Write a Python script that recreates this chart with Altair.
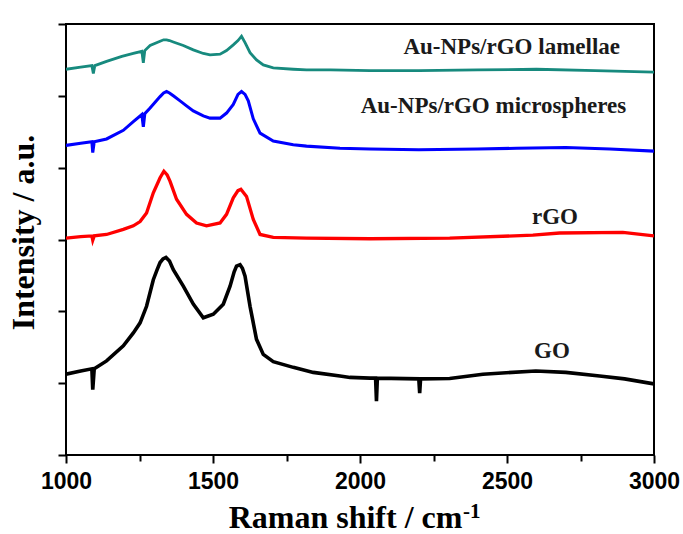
import altair as alt
import pandas as pd

# ---- data (Raman shift in cm-1, offset intensity in a.u.) ----
go_x = [1000, 1050, 1088, 1091, 1096, 1138, 1195, 1229, 1252, 1274, 1297, 1310, 1320, 1330,
        1340, 1352, 1365, 1399, 1433, 1467, 1501, 1535, 1558, 1572, 1580, 1592, 1600, 1609,
        1626, 1648, 1671, 1705, 1773, 1841, 1932, 1966, 2034, 2053, 2056, 2059, 2200, 2203,
        2206, 2305, 2418, 2598, 2700, 2815, 2900, 3000]
go_y = [0.125, 0.17, 0.20, -0.09, 0.20, 0.31, 0.52, 0.70, 0.84, 1.07, 1.44, 1.58, 1.68, 1.73,
        1.75, 1.70, 1.58, 1.35, 1.10, 0.91, 0.96, 1.10, 1.35, 1.55, 1.63, 1.65, 1.60, 1.49,
        1.07, 0.61, 0.40, 0.30, 0.22, 0.15, 0.10, 0.08, 0.07, 0.07, -0.25, 0.07, 0.06, -0.14,
        0.06, 0.065, 0.125, 0.17, 0.15, 0.10, 0.06, -0.01]

rgo_x = [1000, 1050, 1088, 1091, 1096, 1138, 1195, 1229, 1252, 1274, 1297, 1320, 1333, 1344,
         1354, 1376, 1410, 1444, 1478, 1524, 1546, 1569, 1585, 1595, 1614, 1637, 1660, 1705,
         1818, 2034, 2305, 2588, 2679, 2894, 3000]
rgo_y = [2.02, 2.04, 2.05, 1.99, 2.05, 2.07, 2.14, 2.19, 2.25, 2.37, 2.65, 2.86, 2.95, 2.90,
         2.81, 2.56, 2.35, 2.23, 2.19, 2.23, 2.35, 2.58, 2.68, 2.70, 2.60, 2.28, 2.07, 2.03,
         2.02, 2.01, 2.02, 2.06, 2.09, 2.10, 2.05]

micro_x = [1000, 1050, 1088, 1091, 1096, 1138, 1195, 1229, 1258, 1263, 1268, 1286, 1320, 1332,
           1342, 1352, 1365, 1388, 1410, 1433, 1467, 1490, 1524, 1546, 1569, 1585, 1597, 1609,
           1620, 1637, 1660, 1705, 1773, 1818, 1932, 2034, 2200, 2400, 2532, 2700, 2850, 3000]
micro_y = [3.31, 3.34, 3.36, 3.21, 3.36, 3.40, 3.52, 3.64, 3.74, 3.57, 3.75, 3.83, 3.99, 4.04,
           4.06, 4.04, 4.00, 3.93, 3.86, 3.79, 3.72, 3.69, 3.69, 3.76, 3.88, 4.02, 4.06, 4.02,
           3.93, 3.68, 3.48, 3.37, 3.32, 3.30, 3.27, 3.26, 3.25, 3.26, 3.27, 3.28, 3.26, 3.23]

lam_x = [1000, 1050, 1088, 1093, 1098, 1138, 1190, 1229, 1258, 1263, 1268, 1286, 1320, 1332,
         1342, 1352, 1365, 1399, 1433, 1467, 1490, 1524, 1546, 1569, 1585, 1597, 1609, 1626,
         1648, 1671, 1705, 1773, 1818, 1900, 2034, 2200, 2400, 2600, 2800, 3000]
lam_y = [4.37, 4.40, 4.42, 4.31, 4.42, 4.48, 4.55, 4.59, 4.62, 4.46, 4.63, 4.70, 4.76, 4.78,
         4.78, 4.77, 4.75, 4.70, 4.64, 4.59, 4.57, 4.58, 4.63, 4.71, 4.77, 4.83, 4.74, 4.60,
         4.50, 4.43, 4.39, 4.37, 4.36, 4.36, 4.35, 4.35, 4.36, 4.37, 4.35, 4.33]

series_names = ["GO", "rGO", "Au-NPs/rGO microspheres", "Au-NPs/rGO lamellae"]
series_colors = ["#000000", "#ff0000", "#0000ff", "#178a7e"]
series_widths = [3.6, 2.8, 2.8, 2.8]

label_text = ["Au-NPs/rGO lamellae", "Au-NPs/rGO microspheres", "rGO", "GO"]
label_x = [2516, 2454, 2663, 2653]
label_y = [4.58, 3.76, 2.21, 0.35]

x_ticks = [1000, 1250, 1500, 1750, 2000, 2250, 2500, 2750, 3000]
y_ticks = [-1, 0, 1, 2, 3, 4, 5]

rows = []
for name, xs, ys in [(series_names[0], go_x, go_y), (series_names[1], rgo_x, rgo_y),
                     (series_names[2], micro_x, micro_y), (series_names[3], lam_x, lam_y)]:
    for xv, yv in zip(xs, ys):
        rows.append({"series": name, "shift": xv, "intensity": yv})
df = pd.DataFrame(rows)
labels_df = pd.DataFrame({"text": label_text, "shift": label_x, "intensity": label_y})

x_scale = alt.Scale(domain=[1000, 3000], nice=False, zero=False)
y_scale = alt.Scale(domain=[-1, 5], nice=False, zero=False)

x_axis = alt.Axis(
    values=x_ticks,
    labelExpr="datum.value % 500 === 0 ? datum.label : ''",
    format="d",
    domain=False, grid=False,
    tickColor="black", tickWidth=2,
    tickSize={"condition": {"test": "datum.value % 500 === 0", "value": 8}, "value": 6},
    labelFont="Liberation Sans", labelFontSize=23, labelFontWeight="bold", labelColor="black",
    labelPadding=7, labelOverlap=False, labelFlush=False,
    title="Raman shift / cm",
    titleFont="Liberation Serif", titleFontSize=32, titleFontWeight="bold", titleColor="black",
    titleX=279, titleY=72, titleBaseline="alphabetic", titleAlign="center",
)
y_axis = alt.Axis(
    values=y_ticks, labels=False,
    domain=False, grid=False,
    tickColor="black", tickWidth=2, tickSize=8,
    title="Intensity / a.u.",
    titleFont="Liberation Serif", titleFontSize=32, titleFontWeight="bold", titleColor="black",
    titleX=-33, titleY=208, titleBaseline="alphabetic", titleAlign="center", titleAngle=-90,
)

lines = alt.Chart(df).mark_line(clip=True).encode(
    x=alt.X("shift:Q", scale=x_scale, axis=x_axis),
    y=alt.Y("intensity:Q", scale=y_scale, axis=y_axis),
    color=alt.Color("series:N", scale=alt.Scale(domain=series_names, range=series_colors), legend=None),
    strokeWidth=alt.StrokeWidth("series:N", scale=alt.Scale(domain=series_names, range=series_widths), legend=None),
    detail="series:N",
)

texts = alt.Chart(labels_df).mark_text(
    font="Liberation Serif", fontSize=23, fontWeight="bold", color="#1a1a1a",
    align="center", baseline="alphabetic",
).encode(
    x=alt.X("shift:Q", scale=x_scale),
    y=alt.Y("intensity:Q", scale=y_scale),
    text="text:N",
)

sup = alt.Chart(pd.DataFrame({"t": ["-1"]})).mark_text(
    font="Liberation Serif", fontSize=21, fontWeight="bold", color="black",
    align="left", baseline="alphabetic",
).encode(
    text="t:N", x=alt.value(397), y=alt.value(494),
)

chart = alt.layer(lines, texts, sup).properties(
    width=588, height=431,
    autosize=alt.AutoSizeParams(type="none"),
    padding={"left": 66, "top": 24, "right": 29, "bottom": 79},
    background="white",
).configure_view(
    stroke="black", strokeWidth=2,
)

chart.save("out.html", embed_options={"renderer": "svg", "actions": False})
